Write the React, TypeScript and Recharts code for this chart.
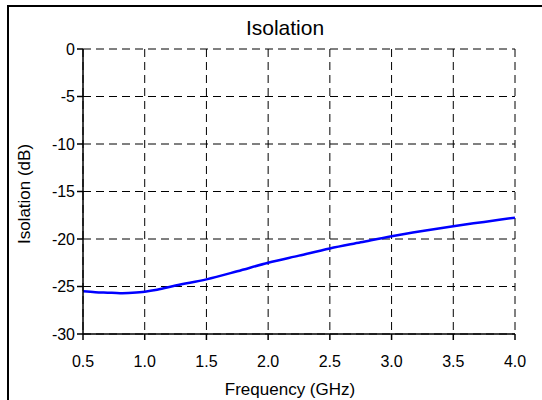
import React from 'react';
import { LineChart, Line, XAxis, YAxis, CartesianGrid } from 'recharts';

const frequencyGHz = [0.5, 0.6, 0.7, 0.8, 0.9, 1.0, 1.1, 1.25, 1.5, 1.75, 2.0, 2.25, 2.5, 2.75, 3.0, 3.25, 3.5, 3.75, 4.0];
const isolationDb = [-25.5, -25.6, -25.65, -25.7, -25.65, -25.55, -25.35, -24.9, -24.25, -23.4, -22.5, -21.75, -21.0, -20.35, -19.7, -19.15, -18.65, -18.2, -17.75];
const xTicks = [0.5, 1.0, 1.5, 2.0, 2.5, 3.0, 3.5, 4.0];
const yTicks = [-30, -25, -20, -15, -10, -5, 0];

const data = frequencyGHz.map((f, i) => ({ f, v: isolationDb[i] }));

const FONT = '"Liberation Sans", Arial, sans-serif';

export default function App() {
  return (
    <div style={{ position: 'absolute', left: 0, top: 0, width: 542, height: 400, background: '#fff', overflow: 'hidden', fontFamily: FONT }}>
      <div style={{ position: 'absolute', left: 7, top: 5, width: 600, height: 500, borderLeft: '2px solid #000', borderTop: '2px solid #000' }} />
      <div style={{ position: 'absolute', left: 0, top: 0 }}>
        <LineChart width={542} height={400} data={data} margin={{ top: 49, right: 27, bottom: 0, left: 0 }}>
          <CartesianGrid stroke="#000" strokeDasharray="8 5" strokeWidth={1} horizontalValues={yTicks} verticalValues={xTicks} />
          <XAxis
            dataKey="f"
            type="number"
            domain={[0.5, 4]}
            ticks={xTicks}
            tickFormatter={(v: number) => v.toFixed(1)}
            height={66}
            tickSize={6}
            stroke="#000"
            strokeWidth={1.5}
            tick={{ fill: '#000', fontSize: 16, fontFamily: FONT }}
            tickMargin={16}
            allowDataOverflow
          />
          <YAxis
            type="number"
            domain={[-30, 0]}
            ticks={yTicks}
            width={83}
            tickSize={6}
            stroke="#000"
            strokeWidth={1.5}
            tick={{ fill: '#000', fontSize: 16, fontFamily: FONT }}
            tickMargin={2}
            allowDataOverflow
          />
          <Line type="monotone" dataKey="v" stroke="#0000ff" strokeWidth={2.5} dot={false} isAnimationActive={false} />
          <text x={285} y={35} textAnchor="middle" fontSize={21} fontFamily={FONT} fill="#000">Isolation</text>
          <text x={290} y={395} textAnchor="middle" fontSize={17} fontFamily={FONT} fill="#000">Frequency (GHz)</text>
          <text x={30} y={194} textAnchor="middle" fontSize={17} fontFamily={FONT} fill="#000" transform="rotate(-90 30 194)">Isolation (dB)</text>
        </LineChart>
      </div>
    </div>
  );
}
